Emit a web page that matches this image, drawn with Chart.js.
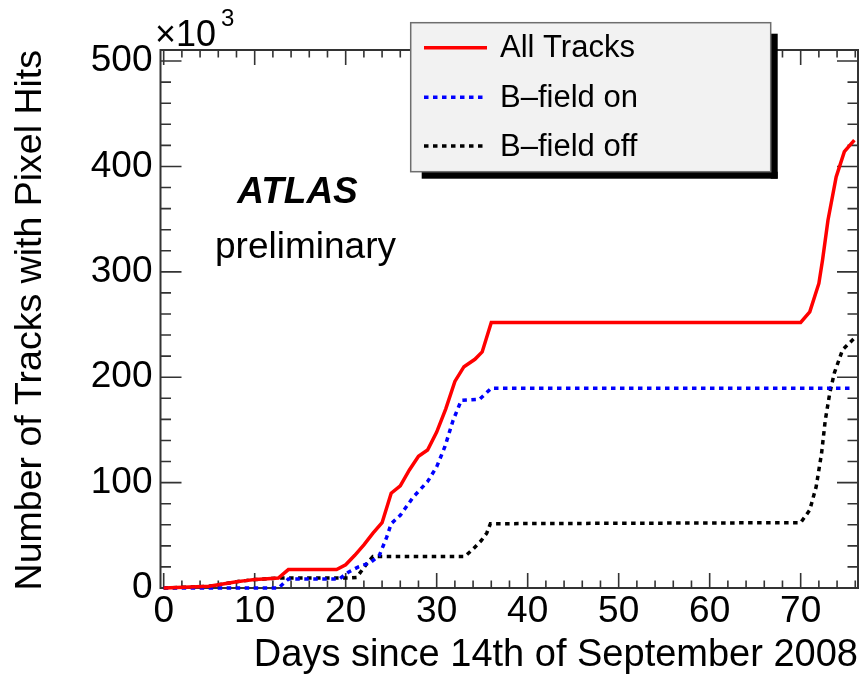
<!DOCTYPE html>
<html><head><meta charset="utf-8">
<script src="https://cdn.jsdelivr.net/npm/chart.js@4.4.1/dist/chart.umd.min.js"></script>
<style>html,body{margin:0;padding:0;background:#fff;}canvas{display:block;}</style>
</head><body>
<canvas id="c" width="863" height="674"></canvas>
<script>
// ---- data (thousands of tracks) ----
const allTracksDays   = [0, 5, 6, 7, 8, 9, 10, 11, 12.6, 13.7, 19, 20, 21, 22, 23, 24, 25, 26, 27, 28, 29, 30, 31, 32, 33, 34.2, 35, 36, 70, 71, 72, 72.4, 73, 73.9, 74.8, 75.9];
const allTracksValues = [0, 1.6, 3, 4.5, 6, 7, 8, 8.5, 9.5, 17.5, 17.5, 22, 31, 41, 52, 62, 90, 97, 112, 125, 131, 148, 170, 196, 210, 217, 224, 252, 252, 262, 289, 311, 349, 390, 414, 425];
const bOnDays   = [0, 12.6, 13.7, 19.3, 20.3, 21.4, 22.7, 23.7, 24.5, 25, 26, 27.4, 29, 30, 30.9, 31.8, 32.7, 34.7, 36, 75.8];
const bOnValues = [0, 0, 8.5, 8.5, 15, 20, 24, 31, 48, 61, 69, 86, 101, 115, 134, 159, 178, 179, 189.5, 189.5];
const bOffDays   = [0, 5, 6, 7, 8, 9, 10, 11, 12.6, 20.5, 21.2, 22.4, 23, 33.1, 34, 34.9, 35.5, 35.9, 70, 71, 71.7, 72.3, 72.7, 73.2, 73.7, 74.6, 75.9];
const bOffValues = [0, 1.6, 3, 4.5, 6, 7, 8, 8.5, 9.5, 9.5, 10, 24, 30, 30, 37, 45, 52, 61, 62, 74, 96, 128, 159, 185, 204, 226, 237];
const seriesNames = ['All Tracks', 'B\u2013field on', 'B\u2013field off'];
const xTickLabels = [0, 10, 20, 30, 40, 50, 60, 70];
const yTickLabels = [0, 100, 200, 300, 400, 500];
const xTitle = 'Days since 14th of September 2008';
const yTitle = 'Number of Tracks with Pixel Hits';

const FONT = "'Liberation Sans', Arial, Helvetica, sans-serif";
function pts(xs, ys) { return xs.map((x, i) => ({ x: x, y: ys[i] })); }

const decor = {
  id: 'decor',
  beforeDatasetsDraw(chart) {
    const { ctx, chartArea: a, scales: { x, y } } = chart;
    ctx.save();
    ctx.strokeStyle = '#333333';
    ctx.lineWidth = 1.6;
    ctx.beginPath();
    for (let d = 0; d <= x.max; d += 2) {
      const px = x.getPixelForValue(d);
      const major = xTickLabels.includes(d);
      const len = major ? 15 : 7.5;
      ctx.moveTo(px, a.bottom); ctx.lineTo(px, a.bottom - len);
      ctx.moveTo(px, a.top); ctx.lineTo(px, a.top + len);
    }
    for (let v = 0; v <= y.max; v += 20) {
      const py = y.getPixelForValue(v);
      const major = yTickLabels.includes(v);
      const len = major ? 21 : 10.5;
      ctx.moveTo(a.left, py); ctx.lineTo(a.left + len, py);
      ctx.moveTo(a.right, py); ctx.lineTo(a.right - len, py);
    }
    ctx.stroke();
    ctx.lineWidth = 2;
    ctx.strokeRect(a.left, a.top, a.right - a.left, a.bottom - a.top);
    ctx.restore();
  },
  afterDraw(chart) {
    const ctx = chart.ctx;
    ctx.save();
    ctx.fillStyle = '#000';
    ctx.textBaseline = 'alphabetic';
    ctx.textAlign = 'left';
    ctx.font = '36px ' + FONT;
    ctx.fillText('\u00d710', 155, 46);
    ctx.font = '24px ' + FONT;
    ctx.fillText('3', 221, 26);
    ctx.textAlign = 'center';
    ctx.font = 'italic bold 37px ' + FONT;
    ctx.fillText('ATLAS', 297.5, 203);
    ctx.font = '37px ' + FONT;
    ctx.fillText('preliminary', 305.5, 258);
    const bx = 410.7, by = 22.7, bw = 360, bh = 149, sh = 7;
    ctx.fillStyle = '#000';
    ctx.fillRect(bx + 11, by + bh, bw - 4, sh);
    ctx.fillRect(bx + bw, by + 11, sh, bh - 11 + sh);
    ctx.fillStyle = '#f2f2f2';
    ctx.fillRect(bx, by, bw, bh);
    ctx.strokeStyle = '#6e6e6e';
    ctx.lineWidth = 1.5;
    ctx.strokeRect(bx, by, bw, bh);
    const rows = [47.7, 97.3, 146];
    chart.data.datasets.forEach((ds, i) => {
      const yy = rows[i];
      ctx.strokeStyle = ds.borderColor;
      ctx.lineWidth = ds.borderWidth;
      ctx.setLineDash(ds.borderDash || []);
      ctx.beginPath();
      ctx.moveTo(424, yy); ctx.lineTo(487, yy);
      ctx.stroke();
      ctx.setLineDash([]);
      ctx.fillStyle = '#000';
      ctx.textAlign = 'left';
      ctx.textBaseline = 'middle';
      ctx.font = '31px ' + FONT;
      ctx.fillText(ds.label, 500, yy + 1);
    });
    ctx.restore();
  }
};

new Chart(document.getElementById('c'), {
  type: 'line',
  data: {
    datasets: [
      { label: seriesNames[0], data: pts(allTracksDays, allTracksValues), borderColor: '#ff0000', borderWidth: 3.5, pointRadius: 0, tension: 0, fill: false, clip: false },
      { label: seriesNames[1], data: pts(bOnDays, bOnValues), borderColor: '#0000ff', borderWidth: 3.5, borderDash: [4.5, 4.5], pointRadius: 0, tension: 0, fill: false, clip: false },
      { label: seriesNames[2], data: pts(bOffDays, bOffValues), borderColor: '#000000', borderWidth: 3.5, borderDash: [4.5, 4.5], pointRadius: 0, tension: 0, fill: false, clip: false }
    ]
  },
  options: {
    responsive: false,
    animation: false,
    devicePixelRatio: 1,
    layout: { padding: { left: 0, right: 5, top: 50, bottom: 0 } },
    plugins: { legend: { display: false }, tooltip: { enabled: false } },
    scales: {
      x: {
        type: 'linear', min: -0.35, max: 76.3,
        afterBuildTicks: s => { s.ticks = xTickLabels.map(v => ({ value: v })); },
        afterFit: s => { s.height = 86; },
        grid: { display: false, drawTicks: false },
        border: { display: false },
        ticks: { color: '#000', padding: 5, maxRotation: 0, autoSkip: false, font: { family: FONT, size: 37, lineHeight: 1 }, callback: v => String(v) },
        title: { display: true, text: xTitle, align: 'end', color: '#000', padding: { top: 0, bottom: 3 }, font: { family: FONT, size: 38, lineHeight: 0.8 } }
      },
      y: {
        type: 'linear', min: 0, max: 510.5,
        afterBuildTicks: s => { s.ticks = yTickLabels.map(v => ({ value: v })); },
        afterFit: s => { s.width = 160.5; },
        grid: { display: false, drawTicks: false },
        border: { display: false },
        ticks: { color: '#000', padding: 8, autoSkip: false, font: { family: FONT, size: 37, lineHeight: 1 }, callback: v => String(v) },
        title: { display: true, text: yTitle, align: 'end', color: '#000', padding: { top: 16, bottom: 0 }, font: { family: FONT, size: 37.5, lineHeight: 0.8 } }
      }
    }
  },
  plugins: [decor]
});
</script>
</body></html>
